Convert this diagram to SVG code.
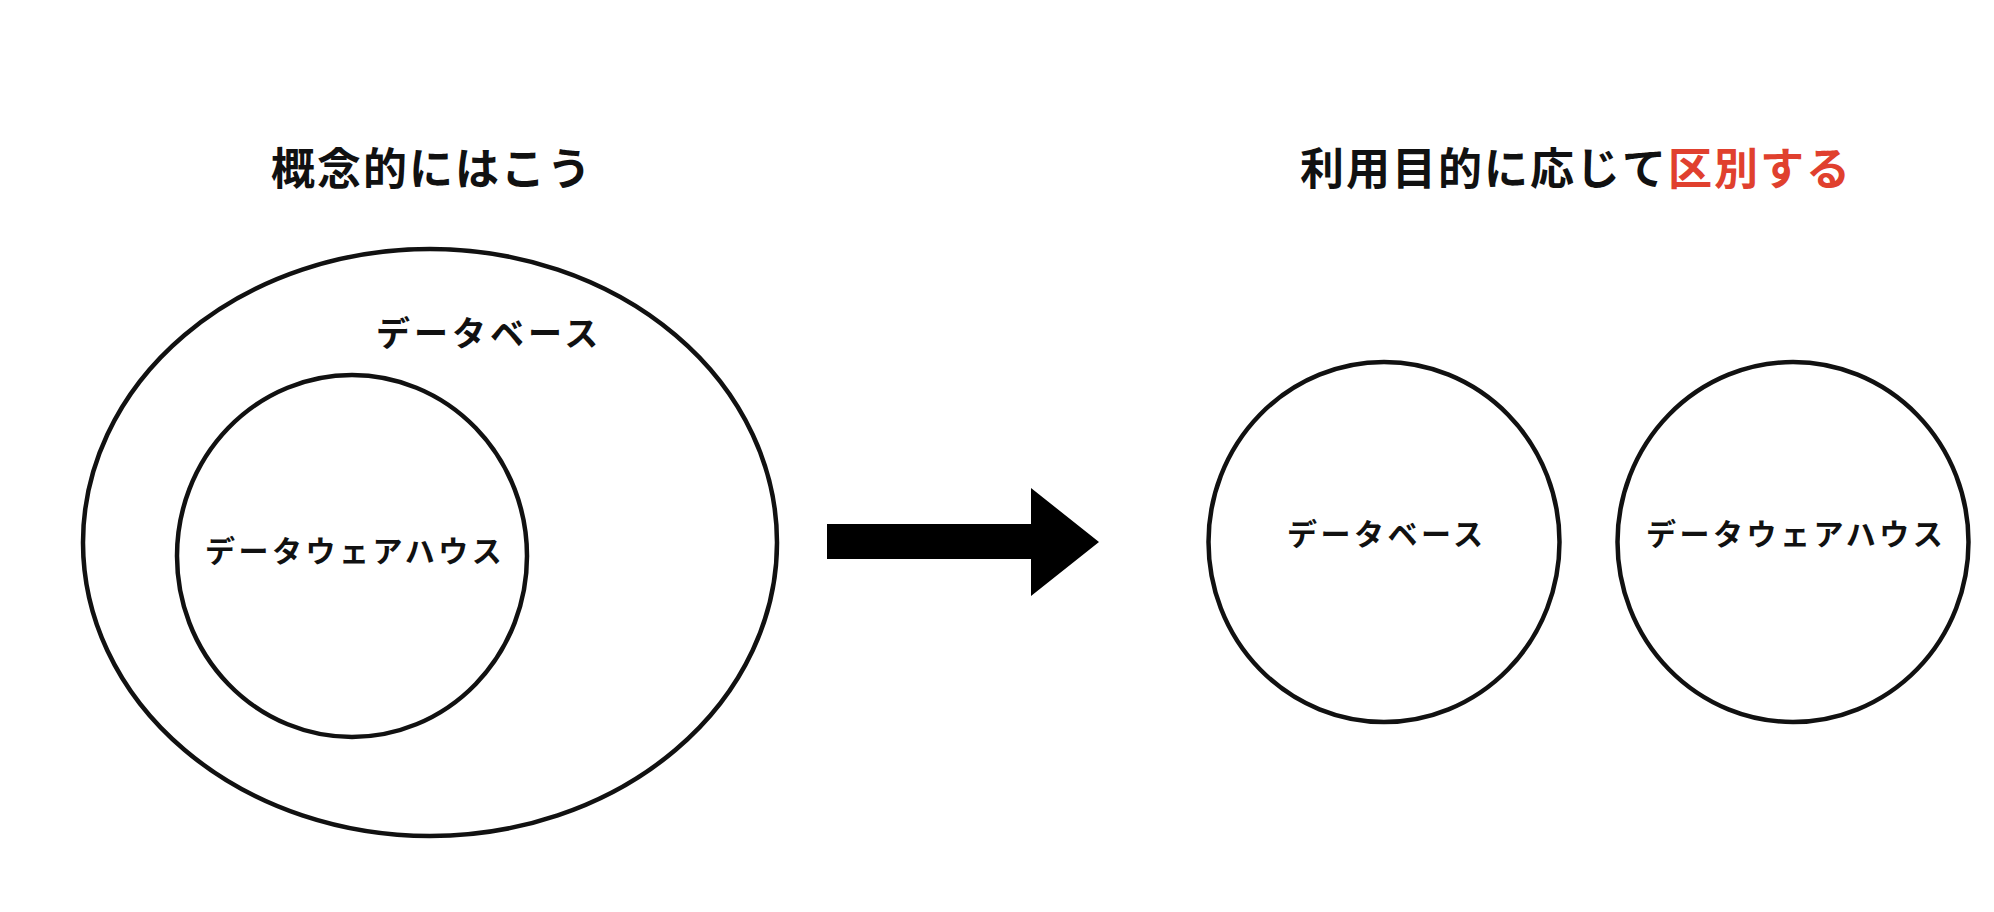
<svg xmlns="http://www.w3.org/2000/svg" width="1994" height="912" viewBox="0 0 1994 912">
<style>
.ring{fill:none;stroke:#111;stroke-width:4.5}
.t{font-family:"Noto Sans CJK JP","Noto Sans CJK SC",sans-serif;font-weight:700;fill:#111}
.title{font-size:44px;letter-spacing:2px}
.lbl{font-size:30px;letter-spacing:3.5px}
.red{fill:#e0402e}
</style>
<rect width="1994" height="912" fill="#fff"/>
<g id="title-left"><text class="t title" x="271" y="185">概念的にはこう</text></g>
<g id="title-right"><text class="t title" x="1300" y="185">利用目的に応じて<tspan class="red">区別する</tspan></text></g>
<g id="node-db-outer">
<ellipse class="ring" cx="430" cy="542.5" rx="347" ry="293.5"/>
<text class="t" style="font-size:34px;letter-spacing:4px" x="376" y="346">データベース</text>
</g>
<g id="node-dwh-inner">
<ellipse class="ring" cx="352" cy="556" rx="175" ry="181"/>
<text class="t lbl" x="205" y="562">データウェアハウス</text>
</g>
<g id="connectors">
<polygon points="827,524 1031,524 1031,488 1099,542 1031,596 1031,559 827,559" fill="#000"/>
</g>
<g id="node-db-right">
<ellipse class="ring" cx="1384" cy="542" rx="175.5" ry="180"/>
<text class="t lbl" x="1287" y="545">データベース</text>
</g>
<g id="node-dwh-right">
<ellipse class="ring" cx="1793" cy="542" rx="175.5" ry="180"/>
<text class="t lbl" x="1646" y="545">データウェアハウス</text>
</g>
</svg>
